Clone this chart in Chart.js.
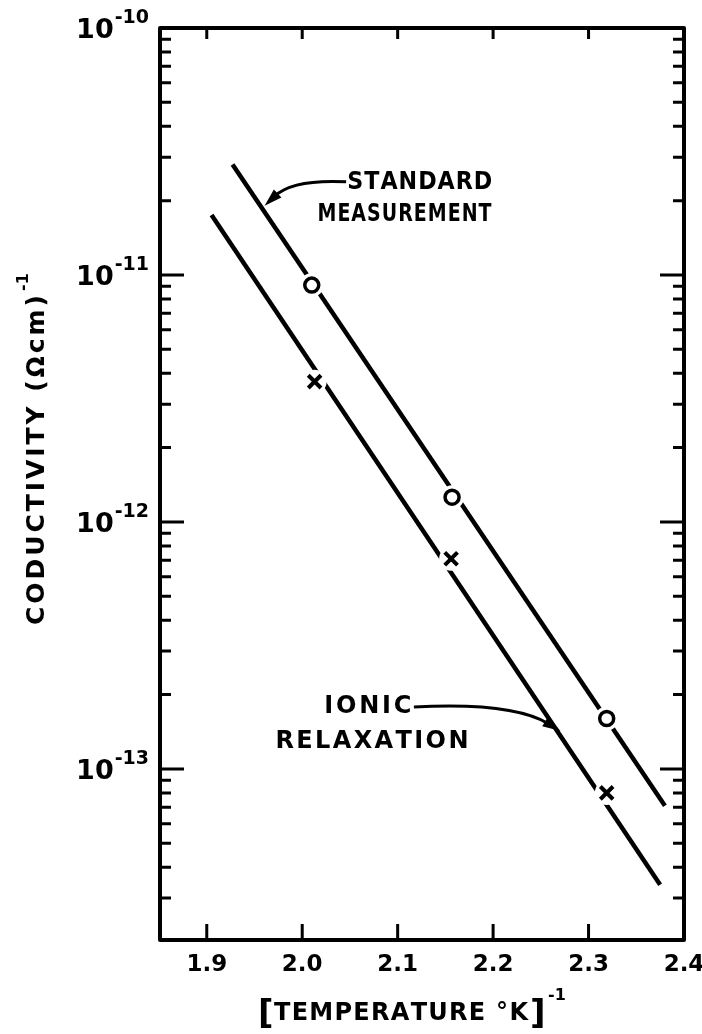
<!DOCTYPE html>
<html>
<head>
<meta charset="utf-8">
<script src="https://cdn.jsdelivr.net/npm/chart.js@4.4.1/dist/chart.umd.min.js"></script>
<style>
html, body { margin: 0; padding: 0; background: #fff; }
#wrap { width: 702px; height: 1034px; }
</style>
</head>
<body>
<div id="wrap"><canvas id="chart"></canvas></div>
<script>
"use strict";

// straight fits, end points
var standardLineX = [1.927, 2.38];
var standardLineY = [2.8e-11, 7.1e-14];
var ionicLineX = [1.905, 2.375];
var ionicLineY = [1.75e-11, 3.4e-14];

// measured points
var standardX = [2.01, 2.157, 2.319];
var standardY = [9.1e-12, 1.26e-12, 1.6e-13];
var ionicX = [2.013, 2.156, 2.319];
var ionicY = [3.7e-12, 7.1e-13, 8.0e-14];

// axes
var xTicks = [1.9, 2.0, 2.1, 2.2, 2.3, 2.4];
var yDecades = [-14, -13, -12, -11, -10];
var yLabeled = [-13, -12, -11, -10];

function pts(xs, ys) {
    return xs.map(function (x, i) { return {x: x, y: ys[i]}; });
}

var FONT = '"DejaVu Sans", sans-serif';

// letters spread (or squeezed) to cover a given width, like the hand lettering
function spaced(c, text, x, y, width) {
    var ws = text.split('').map(function (ch) { return c.measureText(ch).width; });
    var total = ws.reduce(function (a, b) { return a + b; }, 0);
    var n = text.length;
    var gap = n > 1 ? (width - total) / (n - 1) : 0;
    var sx = 1;
    if (gap < 1) {
        gap = 1;
        sx = (width - (n - 1)) / total;
    }
    c.save();
    c.translate(x, y);
    c.scale(sx, 1);
    c.textAlign = 'left';
    var cx = 0;
    for (var i = 0; i < n; i++) {
        c.fillText(text[i], cx, 0);
        cx += ws[i] + gap / sx;
    }
    c.restore();
}

function arrow(c, p0, p1, p2) {
    var a = Math.atan2(p2.y - p1.y, p2.x - p1.x);
    var L = 18, W = 5.5;
    var bx = p2.x - (L - 4) * Math.cos(a), by = p2.y - (L - 4) * Math.sin(a);
    c.beginPath();
    c.moveTo(p0.x, p0.y);
    c.quadraticCurveTo(p1.x, p1.y, bx, by);
    c.stroke();
    c.beginPath();
    c.moveTo(p2.x, p2.y);
    c.lineTo(p2.x - L * Math.cos(a) + W * Math.sin(a), p2.y - L * Math.sin(a) - W * Math.cos(a));
    c.lineTo(p2.x - L * Math.cos(a) - W * Math.sin(a), p2.y - L * Math.sin(a) + W * Math.cos(a));
    c.closePath();
    c.fill();
}

var paper = {
    id: 'paper',
    afterDatasetsDraw: function (chart) {
        var c = chart.ctx, a = chart.chartArea;
        var xs = chart.scales.x, ys = chart.scales.y;
        c.save();
        c.strokeStyle = '#000';
        c.lineCap = 'butt';
        // inward ticks
        c.lineWidth = 3;
        c.beginPath();
        xTicks.forEach(function (v) {
            var px = xs.getPixelForValue(v);
            if (px > a.right - 3) return;
            c.moveTo(px, a.bottom); c.lineTo(px, a.bottom - 16);
            c.moveTo(px, a.top); c.lineTo(px, a.top + 11);
        });
        ys.ticks.forEach(function (t) {
            var py = ys.getPixelForValue(t.value);
            if (py < a.top + 3 || py > a.bottom - 3) return;
            var lg = Math.log10(t.value);
            var major = Math.abs(lg - Math.round(lg)) < 1e-6;
            var len = major ? 24 : 11;
            c.moveTo(a.left, py); c.lineTo(a.left + len, py);
            c.moveTo(a.right, py); c.lineTo(a.right - len, py);
        });
        c.stroke();
        // frame
        c.lineWidth = 4;
        c.lineJoin = 'round';
        c.strokeRect(a.left, a.top, a.right - a.left, a.bottom - a.top);
        c.restore();
    },
    afterDraw: function (chart) {
        var c = chart.ctx, a = chart.chartArea;
        var xs = chart.scales.x, ys = chart.scales.y;
        function P(x, e) { return {x: xs.getPixelForValue(x), y: ys.getPixelForValue(Math.pow(10, e))}; }
        c.save();
        c.fillStyle = '#000';
        c.strokeStyle = '#000';
        c.textBaseline = 'middle';

        // y tick labels 10^n
        yLabeled.forEach(function (e) {
            var py = ys.getPixelForValue(Math.pow(10, e));
            var right = a.left - 11;
            c.font = 'bold 19px ' + FONT;
            var sup = '-' + Math.abs(e);
            var sw = c.measureText(sup).width;
            c.textAlign = 'right';
            c.fillText(sup, right, py - 10);
            c.font = 'bold 27px ' + FONT;
            c.fillText('10', right - sw - 1, py + 3);
        });

        // y title
        c.save();
        c.translate(37, 449);
        c.rotate(-Math.PI / 2);
        c.font = 'bold 25px ' + FONT;
        spaced(c, 'CODUCTIVITY (\u03a9cm)', -176, 0, 330);
        c.font = 'bold 16px ' + FONT;
        c.textAlign = 'left';
        c.fillText('-1', 158, -13);
        c.restore();

        // x title
        var ty = 1014;
        c.font = 'bold 34px ' + FONT;
        c.textAlign = 'left';
        c.fillText('[', 258, ty + 1);
        c.font = 'bold 24px ' + FONT;
        spaced(c, 'TEMPERATURE \u00b0K', 274, ty, 254);
        c.font = 'bold 34px ' + FONT;
        c.fillText(']', 530, ty + 1);
        c.font = 'bold 16px ' + FONT;
        c.fillText('-1', 548, ty - 18);

        // annotations
        c.font = 'bold 24px ' + FONT;
        var p = P(2.0472, -10.6275);
        spaced(c, 'STANDARD', p.x, p.y, 145);
        p = P(2.016, -10.757);
        spaced(c, 'MEASUREMENT', p.x, p.y, 174);
        p = P(2.0232, -12.749);
        spaced(c, 'IONIC', p.x, p.y, 87);
        p = P(1.972, -12.891);
        spaced(c, 'RELAXATION', p.x, p.y, 193);

        c.lineWidth = 3;
        arrow(c, P(2.046, -10.623), P(1.99, -10.612), P(1.9606, -10.72));
        arrow(c, P(2.117, -12.749), P(2.22, -12.728), P(2.2706, -12.846));
        c.restore();
    }
};

var ctx = document.getElementById('chart').getContext('2d');
var myChart = new Chart(ctx, {
    type: 'scatter',
    data: {
        datasets: [{
            label: 'Standard measurement',
            data: pts(standardX, standardY),
            pointStyle: 'circle',
            pointRadius: 7,
            pointBorderWidth: 3.5,
            pointBackgroundColor: '#fff',
            pointBorderColor: '#000',
            order: 1
        }, {
            label: 'Ionic relaxation',
            data: pts(ionicX, ionicY),
            pointStyle: 'crossRot',
            pointRadius: 9,
            pointBorderWidth: 4,
            pointBorderColor: '#000',
            order: 1
        }, {
            label: 'gap standard',
            data: pts(standardX, standardY),
            pointRadius: 12,
            pointBorderWidth: 0,
            pointBackgroundColor: '#fff',
            order: 2
        }, {
            label: 'gap ionic',
            data: pts(ionicX, ionicY),
            pointRadius: 12,
            pointBorderWidth: 0,
            pointBackgroundColor: '#fff',
            order: 2
        }, {
            label: 'Standard fit',
            data: pts(standardLineX, standardLineY),
            showLine: true,
            borderColor: '#000',
            borderWidth: 4.5,
            pointRadius: 0,
            order: 3
        }, {
            label: 'Ionic fit',
            data: pts(ionicLineX, ionicLineY),
            showLine: true,
            borderColor: '#000',
            borderWidth: 4.5,
            pointRadius: 0,
            order: 3
        }]
    },
    options: {
        responsive: true,
        maintainAspectRatio: false,
        animation: false,
        layout: {
            padding: {top: 28, right: 18, left: 0, bottom: 0}
        },
        plugins: {
            legend: {display: false},
            tooltip: {enabled: false}
        },
        scales: {
            x: {
                type: 'linear',
                min: 1.851,
                max: 2.4,
                grid: {display: false, drawTicks: false},
                border: {display: false},
                afterBuildTicks: function (s) {
                    s.ticks = xTicks.map(function (v) { return {value: v}; });
                },
                afterFit: function (s) {
                    s.height = 94;
                    s.paddingLeft = 0;
                    s.paddingRight = 0;
                },
                ticks: {
                    color: '#000',
                    padding: 11,
                    maxRotation: 0,
                    autoSkip: false,
                    font: {family: 'DejaVu Sans', size: 23, weight: 'bold'},
                    callback: function (v) { return v.toFixed(1); }
                }
            },
            y: {
                type: 'logarithmic',
                min: 2.03e-14,
                max: 1e-10,
                grid: {display: false, drawTicks: false},
                border: {display: false},
                afterBuildTicks: function (s) {
                    var t = [];
                    yDecades.forEach(function (e) {
                        for (var m = 1; m <= 9; m++) {
                            var v = m * Math.pow(10, e);
                            if (v >= s.min * 0.999 && v <= s.max * 1.001) t.push({value: v});
                        }
                    });
                    s.ticks = t;
                },
                afterFit: function (s) {
                    s.width = 160;
                    s.paddingTop = 0;
                    s.paddingBottom = 0;
                },
                ticks: {display: false}
            }
        }
    },
    plugins: [paper]
});
</script>
</body>
</html>
